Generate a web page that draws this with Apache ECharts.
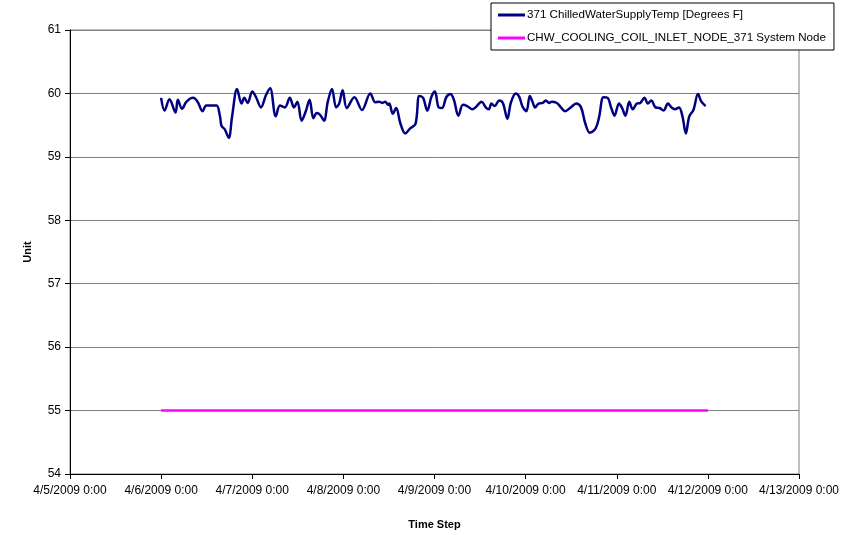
<!DOCTYPE html>
<html>
<head>
<meta charset="utf-8">
<script src="https://cdn.jsdelivr.net/npm/echarts@6/dist/echarts.min.js"></script>
<style>
  html, body { margin: 0; padding: 0; background: #fff; }
  #chart { width: 856px; height: 535px; }
</style>
</head>
<body>
<div id="chart"></div>
<script>
// hours after 4/6/2009 0:00 and the supply temp
const supplyHours = [0, 0.9, 2.2, 3.8, 4.4, 5.5, 6.7, 8.4, 9.6, 10.9, 11.9, 13.1, 14.6, 15.5, 15.9, 16.8, 17.8, 18.7, 20.0, 21.2, 21.9, 22.8, 24.0, 25.0, 26.3, 27.6, 28.7, 30.2, 31.3, 32.6, 33.9, 35.0, 35.9, 37.0, 38.1, 39.1, 40.1, 41.0, 41.9, 42.9, 43.9, 45.0, 46.1, 46.9, 47.8, 48.9, 50.9, 52.9, 55.1, 56.4, 57.4, 58.2, 59.0, 59.8, 60.1, 61.0, 61.9, 63.0, 64.3, 65.6, 67.0, 68.0, 69.0, 70.1, 71.2, 72.1, 73.1, 74.0, 75.1, 76.2, 77.1, 78.3, 79.5, 80.6, 82.0, 82.8, 84.4, 85.5, 86.3, 87.0, 87.9, 89.0, 90.0, 91.2, 92.1, 93.4, 94.3, 95.2, 96.2, 97.1, 97.8, 98.5, 99.4, 100.5, 101.3, 102.2, 102.9, 104.2, 105.3, 106.4, 107.9, 109.3, 110.6, 111.7, 112.9, 114.1, 114.8, 115.4, 116.5, 117.6, 118.5, 119.4, 120.6, 121.4, 122.3, 123.3, 124.2, 125.3, 126.2, 127.3, 128.2, 129.1, 130.2, 131.3, 132.3, 133.5, 134.4, 135.3, 136.4, 137.3, 138.2, 139.1, 140.2, 141.4, 142.3, 143.4];
const supplyTemp = [59.93, 59.73, 59.91, 59.70, 59.90, 59.76, 59.87, 59.93, 59.87, 59.72, 59.81, 59.81, 59.81, 59.64, 59.49, 59.43, 59.30, 59.64, 60.07, 59.84, 59.93, 59.85, 60.03, 59.94, 59.78, 59.97, 60.08, 59.64, 59.81, 59.78, 59.93, 59.78, 59.87, 59.57, 59.72, 59.90, 59.61, 59.69, 59.66, 59.57, 59.87, 60.07, 59.78, 59.84, 60.05, 59.77, 59.94, 59.74, 60.00, 59.86, 59.87, 59.85, 59.87, 59.82, 59.84, 59.68, 59.77, 59.53, 59.37, 59.45, 59.52, 59.96, 59.93, 59.73, 59.95, 60.03, 59.78, 59.77, 59.94, 59.99, 59.90, 59.65, 59.82, 59.80, 59.75, 59.78, 59.87, 59.78, 59.75, 59.84, 59.80, 59.89, 59.85, 59.60, 59.85, 60.00, 59.95, 59.79, 59.72, 59.96, 59.87, 59.78, 59.84, 59.85, 59.89, 59.85, 59.87, 59.85, 59.78, 59.72, 59.78, 59.84, 59.78, 59.53, 59.38, 59.42, 59.50, 59.64, 59.94, 59.93, 59.78, 59.65, 59.84, 59.77, 59.65, 59.87, 59.75, 59.84, 59.85, 59.93, 59.84, 59.89, 59.78, 59.77, 59.73, 59.84, 59.78, 59.75, 59.78, 59.64, 59.37, 59.64, 59.74, 59.99, 59.87, 59.80];
const nodeHours = [0, 144];
const nodeTemp = [55, 55];
const xTickLabels = ['4/5/2009 0:00', '4/6/2009 0:00', '4/7/2009 0:00', '4/8/2009 0:00', '4/9/2009 0:00', '4/10/2009 0:00', '4/11/2009 0:00', '4/12/2009 0:00', '4/13/2009 0:00'];
const seriesNames = ['371 ChilledWaterSupplyTemp [Degrees F]', 'CHW_COOLING_COIL_INLET_NODE_371 System Node'];

// x axis runs in hours from 4/5/2009 0:00
const startOffset = 24;
const txt = { fontFamily: 'Liberation Sans, Arial, sans-serif', fontSize: 12, color: '#000' };

let mychart = echarts.init(document.getElementById('chart'));
mychart.setOption({
  animation: false,
  backgroundColor: '#fff',
  grid: {
    left: 70, top: 30, right: 57, bottom: 61,
    show: true, borderColor: '#808080', borderWidth: 1
  },
  legend: {
    orient: 'vertical',
    left: 491, top: 3,
    backgroundColor: '#fff',
    borderColor: '#000', borderWidth: 1,
    padding: [6, 8, 6, 7],
    itemGap: 11,
    itemWidth: 27, itemHeight: 3,
    icon: 'rect',
    textStyle: { ...txt, fontSize: 11.6, padding: [0, 0, 0, -3] },
    data: seriesNames
  },
  xAxis: {
    type: 'value',
    min: 0, max: 192, interval: 24,
    name: 'Time Step',
    nameLocation: 'middle',
    nameGap: 45,
    nameTextStyle: { ...txt, fontSize: 11, fontWeight: 'bold' },
    axisLine: { lineStyle: { color: '#000', width: 1 } },
    axisTick: { show: true, inside: false, length: 5, lineStyle: { color: '#000' } },
    axisLabel: { ...txt, margin: 11, formatter: v => xTickLabels[Math.round(v / 24)] },
    splitLine: { show: false }
  },
  yAxis: {
    type: 'value',
    min: 54, max: 61, interval: 1,
    name: 'Unit',
    nameLocation: 'middle',
    nameGap: 37,
    nameRotate: 90,
    nameTextStyle: { ...txt, fontSize: 11, fontWeight: 'bold' },
    axisLine: { show: true, lineStyle: { color: '#000', width: 1 } },
    axisTick: { show: true, inside: false, length: 5, lineStyle: { color: '#000' } },
    axisLabel: { ...txt, margin: 9 },
    splitLine: { show: true, lineStyle: { color: '#808080', width: 1 } }
  },
  series: [
    {
      name: seriesNames[0],
      type: 'line',
      data: supplyHours.map((h, i) => [startOffset + h, supplyTemp[i]]),
      smooth: 0.35,
      showSymbol: false,
      lineStyle: { color: '#000080', width: 2.5 },
      itemStyle: { color: '#000080' }
    },
    {
      name: seriesNames[1],
      type: 'line',
      data: nodeHours.map((h, i) => [startOffset + h, nodeTemp[i]]),
      showSymbol: false,
      lineStyle: { color: '#ff00ff', width: 2.5 },
      itemStyle: { color: '#ff00ff' }
    }
  ]
});
</script>
</body>
</html>
